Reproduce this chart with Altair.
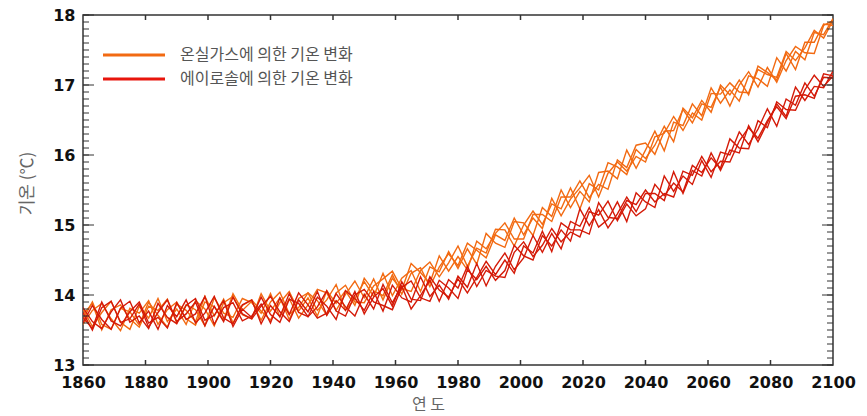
import altair as alt
import pandas as pd

# Years sampled every 3 years (1860-2100)
years = list(range(1860, 2101, 3))

G1 = "온실가스에 의한 기온 변화"
G2 = "에이로솔에 의한 기온 변화"

ghg_1 = [13.80, 13.55, 13.75, 13.91, 13.61, 13.51, 13.84, 13.67, 13.95, 13.62,
         13.80, 13.58, 13.92, 13.80, 13.56, 13.89, 13.98, 13.72, 13.66, 14.02,
         13.77, 13.96, 13.65, 13.95, 14.03, 13.78, 13.93, 14.15, 13.78, 13.95,
         14.19, 13.98, 14.31, 13.99, 14.24, 14.35, 14.05, 14.40, 14.33, 14.62,
         14.38, 14.66, 14.44, 14.88, 14.74, 14.68, 15.05, 15.03, 14.85, 15.25,
         15.12, 15.50, 15.25, 15.48, 15.33, 15.75, 15.77, 15.66, 16.07, 15.81,
         16.07, 16.34, 16.06, 16.47, 16.42, 16.73, 16.56, 16.96, 16.74, 16.93,
         16.77, 17.13, 17.09, 16.98, 17.39, 17.20, 17.48, 17.36, 17.75, 17.72,
         17.95]
ghg_2 = [13.58, 13.78, 13.88, 13.66, 13.49, 13.81, 13.74, 13.92, 13.58, 13.79,
         13.90, 13.66, 13.57, 13.90, 13.83, 13.64, 14.02, 13.78, 13.91, 13.64,
         13.90, 14.04, 13.73, 13.82, 14.03, 13.92, 13.71, 14.03, 14.14, 13.90,
         13.89, 14.13, 14.23, 14.34, 14.09, 14.05, 14.35, 14.47, 14.26, 14.46,
         14.70, 14.41, 14.67, 14.60, 14.94, 14.93, 14.70, 15.00, 15.20, 15.01,
         15.30, 15.23, 15.53, 15.23, 15.59, 15.50, 15.89, 15.83, 15.72, 16.08,
         15.95, 16.14, 16.41, 16.19, 16.67, 16.53, 16.78, 16.61, 17.00, 16.86,
         17.07, 16.86, 17.27, 17.18, 17.07, 17.45, 17.22, 17.61, 17.61, 17.87,
         17.85]
ghg_3 = [13.72, 13.88, 13.50, 13.79, 13.86, 13.66, 13.54, 13.84, 13.78, 13.94,
         13.60, 13.86, 13.79, 13.56, 13.96, 13.74, 13.68, 13.95, 13.89, 13.74,
         14.02, 13.69, 13.95, 13.67, 13.86, 14.08, 14.03, 13.78, 14.01, 14.20,
         13.96, 14.23, 13.93, 14.24, 14.07, 14.45, 14.32, 14.17, 14.56, 14.34,
         14.55, 14.36, 14.77, 14.66, 14.88, 15.03, 14.80, 14.80, 15.15, 15.15,
         15.05, 15.40, 15.40, 15.63, 15.39, 15.58, 15.51, 15.93, 15.82, 16.14,
         16.17, 16.01, 16.34, 16.35, 16.65, 16.46, 16.73, 16.68, 16.97, 16.70,
         17.00, 17.19, 16.97, 17.25, 17.04, 17.35, 17.55, 17.46, 17.45, 17.85,
         17.92]
ghg_4 = [13.65, 13.90, 13.58, 13.51, 13.81, 13.76, 13.57, 13.90, 13.71, 13.54,
         13.87, 13.78, 13.62, 13.98, 13.70, 13.94, 13.60, 13.85, 13.93, 13.77,
         13.64, 13.89, 14.05, 13.77, 13.96, 13.70, 14.06, 13.88, 14.06, 13.85,
         14.24, 14.06, 13.99, 14.29, 14.01, 14.31, 14.39, 14.12, 14.40, 14.59,
         14.42, 14.74, 14.64, 14.53, 14.86, 14.78, 15.10, 14.86, 15.10, 14.95,
         15.38, 15.13, 15.37, 15.53, 15.71, 15.40, 15.74, 15.90, 15.77, 15.98,
         15.90, 16.26, 16.31, 16.55, 16.35, 16.60, 16.50, 16.88, 16.87, 17.03,
         16.90, 16.89, 17.22, 17.15, 17.11, 17.48, 17.35, 17.53, 17.78, 17.67,
         17.92]

aer_1 = [13.82, 13.62, 13.52, 13.76, 13.93, 13.61, 13.70, 13.52, 13.88, 13.68,
         13.59, 13.85, 13.95, 13.64, 13.71, 13.92, 13.55, 13.80, 13.68, 13.97,
         13.72, 13.61, 13.94, 13.88, 13.69, 13.83, 14.06, 13.77, 13.70, 14.00,
         14.08, 13.90, 13.85, 13.79, 14.11, 14.20, 13.96, 13.91, 14.21, 14.10,
         13.95, 14.36, 14.22, 14.41, 14.21, 14.35, 14.71, 14.56, 14.50, 14.85,
         14.70, 14.93, 14.77, 15.23, 14.99, 15.22, 14.96, 15.16, 15.40, 15.19,
         15.45, 15.45, 15.35, 15.76, 15.45, 15.78, 15.70, 16.03, 15.78, 16.07,
         16.03, 16.42, 16.19, 16.46, 16.73, 16.55, 16.97, 16.78, 16.98, 16.96,
         17.20]
aer_2 = [13.68, 13.52, 13.90, 13.63, 13.56, 13.76, 13.90, 13.60, 13.68, 13.53,
         13.89, 13.65, 13.73, 13.98, 13.58, 13.82, 13.89, 13.63, 13.70, 13.87,
         13.60, 13.96, 13.72, 14.03, 13.86, 13.67, 13.74, 14.02, 13.83, 13.70,
         14.01, 13.80, 14.15, 13.89, 14.13, 13.80, 13.99, 14.21, 13.91, 14.22,
         14.10, 14.41, 14.12, 14.35, 14.27, 14.25, 14.61, 14.76, 14.55, 14.71,
         14.95, 14.76, 14.90, 14.83, 15.19, 15.14, 15.34, 15.06, 15.30, 15.13,
         15.23, 15.58, 15.42, 15.60, 15.47, 15.85, 15.75, 15.96, 15.81, 16.23,
         16.10, 16.09, 16.49, 16.39, 16.76, 16.65, 16.64, 16.93, 17.14, 16.98,
         17.13]
aer_3 = [13.60, 13.85, 13.65, 13.51, 13.81, 13.91, 13.60, 13.77, 13.51, 13.85,
         13.69, 13.93, 13.60, 13.74, 13.98, 13.67, 13.59, 13.86, 13.93, 13.59,
         13.85, 13.69, 14.02, 13.75, 13.69, 13.97, 13.84, 13.65, 14.06, 13.95,
         13.78, 14.05, 13.77, 14.14, 13.96, 13.90, 14.26, 13.98, 14.14, 13.94,
         14.27, 14.11, 14.45, 14.13, 14.41, 14.60, 14.36, 14.53, 14.85, 14.61,
         14.88, 14.66, 15.05, 14.98, 15.25, 14.97, 15.08, 15.33, 15.05, 15.46,
         15.33, 15.25, 15.70, 15.48, 15.70, 15.58, 15.92, 15.68, 16.04, 16.00,
         16.33, 16.15, 16.37, 16.66, 16.41, 16.80, 16.71, 17.03, 16.84, 17.11,
         17.10]
aer_4 = [13.75, 13.50, 13.82, 13.91, 13.61, 13.66, 13.87, 13.54, 13.75, 13.93,
         13.62, 13.73, 13.90, 13.56, 13.84, 13.62, 13.97, 13.73, 13.66, 13.84,
         13.98, 13.76, 13.62, 13.93, 13.76, 14.05, 13.71, 13.92, 13.78, 14.05,
         13.73, 13.97, 14.09, 13.84, 14.19, 13.94, 13.92, 14.26, 14.07, 13.97,
         14.23, 14.03, 14.25, 14.48, 14.29, 14.50, 14.31, 14.70, 14.60, 14.91,
         14.62, 15.03, 14.93, 14.93, 14.87, 15.32, 15.11, 15.09, 15.35, 15.29,
         15.50, 15.33, 15.45, 15.40, 15.77, 15.71, 15.98, 15.76, 15.91, 15.90,
         16.20, 16.39, 16.24, 16.49, 16.69, 16.52, 16.84, 16.86, 16.81, 17.16,
         17.13]

x_labels = [1860, 1880, 1900, 1920, 1940, 1960, 1980, 2000, 2020, 2040, 2060, 2080, 2100]
y_labels = [13, 14, 15, 16, 17, 18]

ORANGE = "#F26A12"
RED = "#D41A08"

series = [
    ("g1", G1, ghg_1), ("g2", G1, ghg_2), ("g3", G1, ghg_3), ("g4", G1, ghg_4),
    ("a1", G2, aer_1), ("a2", G2, aer_2), ("a3", G2, aer_3), ("a4", G2, aer_4),
]
rows = []
for member, grp, vals in series:
    for yr, v in zip(years, vals):
        rows.append({"year": yr, "temp": v, "member": member, "group": grp})
df = pd.DataFrame(rows)

W, H = 750, 350
LABEL_FONT = "DejaVu Sans"
KR_FONT = "Noto Sans CJK KR"

xscale = alt.Scale(domain=[1860, 2100], nice=False, zero=False)
yscale = alt.Scale(domain=[13, 18], nice=False, zero=False)

lines = alt.Chart(df).mark_line(strokeWidth=1.4, clip=True).encode(
    x=alt.X("year:Q", scale=xscale,
            axis=alt.Axis(values=x_labels, format="d", ticks=False, domain=False, grid=False,
                          labelFont=LABEL_FONT, labelFontSize=16, labelFontWeight="bold",
                          labelColor="#111", labelPadding=9, labelOverlap=False, labelBound=False,
                          labelFlush=False,
                          title="연 도", titleFont=KR_FONT, titleFontSize=16,
                          titleFontWeight="normal", titleColor="#666",
                          titleX=345, titleY=39, titleBaseline="middle", titleAlign="center")),
    y=alt.Y("temp:Q", scale=yscale,
            axis=alt.Axis(values=y_labels, format="d", ticks=False, domain=False, grid=False,
                          labelFont=LABEL_FONT, labelFontSize=16, labelFontWeight="bold",
                          labelColor="#111", labelPadding=8, labelOverlap=False, labelBound=False,
                          labelFlush=False,
                          title="기온 (℃)", titleFont=KR_FONT, titleFontSize=17,
                          titleFontWeight="normal", titleColor="#666",
                          titleX=-56, titleY=168, titleBaseline="middle", titleAlign="center",
                          titleAngle=270)),
    color=alt.Color("group:N",
                    scale=alt.Scale(domain=[G1, G2], range=[ORANGE, RED]),
                    legend=None),
    detail="member:N",
)

# inward tick marks drawn through the scales
ytick_minor = pd.DataFrame({"v": [13 + i / 10 for i in range(51)]})
ytick_major = pd.DataFrame({"v": y_labels})
xtick = pd.DataFrame({"v": x_labels[1:-1]})

tick_color = "#333"
y_minor_l = alt.Chart(ytick_minor).mark_rule(color=tick_color, strokeWidth=1).encode(
    y=alt.Y("v:Q", scale=yscale), x=alt.value(0), x2=alt.value(6))
y_minor_r = alt.Chart(ytick_minor).mark_rule(color=tick_color, strokeWidth=1).encode(
    y=alt.Y("v:Q", scale=yscale), x=alt.value(W), x2=alt.value(W - 6))
y_major_l = alt.Chart(ytick_major).mark_rule(color=tick_color, strokeWidth=1).encode(
    y=alt.Y("v:Q", scale=yscale), x=alt.value(0), x2=alt.value(11))
y_major_r = alt.Chart(ytick_major).mark_rule(color=tick_color, strokeWidth=1).encode(
    y=alt.Y("v:Q", scale=yscale), x=alt.value(W), x2=alt.value(W - 11))
x_bot = alt.Chart(xtick).mark_rule(color=tick_color, strokeWidth=1.5).encode(
    x=alt.X("v:Q", scale=xscale), y=alt.value(H), y2=alt.value(H - 5))
x_top = alt.Chart(xtick).mark_rule(color=tick_color, strokeWidth=1.5).encode(
    x=alt.X("v:Q", scale=xscale), y=alt.value(0), y2=alt.value(5))

# legend (inside top-left of the plot)
leg1 = pd.DataFrame({"label": [G1]})
leg2 = pd.DataFrame({"label": [G2]})
leg_rule_1 = alt.Chart(leg1).mark_rule(color=ORANGE, strokeWidth=3).encode(
    x=alt.value(20), x2=alt.value(82), y=alt.value(40))
leg_rule_2 = alt.Chart(leg2).mark_rule(color="#E8150C", strokeWidth=3).encode(
    x=alt.value(20), x2=alt.value(82), y=alt.value(64))
leg_text_1 = alt.Chart(leg1).mark_text(align="left", baseline="middle", font=KR_FONT,
                                       fontSize=16, color="#555").encode(
    text="label:N", x=alt.value(97), y=alt.value(40))
leg_text_2 = alt.Chart(leg2).mark_text(align="left", baseline="middle", font=KR_FONT,
                                       fontSize=16, color="#555").encode(
    text="label:N", x=alt.value(97), y=alt.value(64))

chart = alt.layer(
    lines, y_minor_l, y_minor_r, y_major_l, y_major_r, x_bot, x_top,
    leg_rule_1, leg_rule_2, leg_text_1, leg_text_2
).properties(
    width=W, height=H,
    padding={"left": 83, "top": 15, "right": 34, "bottom": 51},
    autosize=alt.AutoSizeParams(type="none"),
    background="white",
).configure_view(
    stroke="#333", strokeWidth=1.5
)

chart.save("out.html", embed_options={"renderer": "svg", "actions": False})
